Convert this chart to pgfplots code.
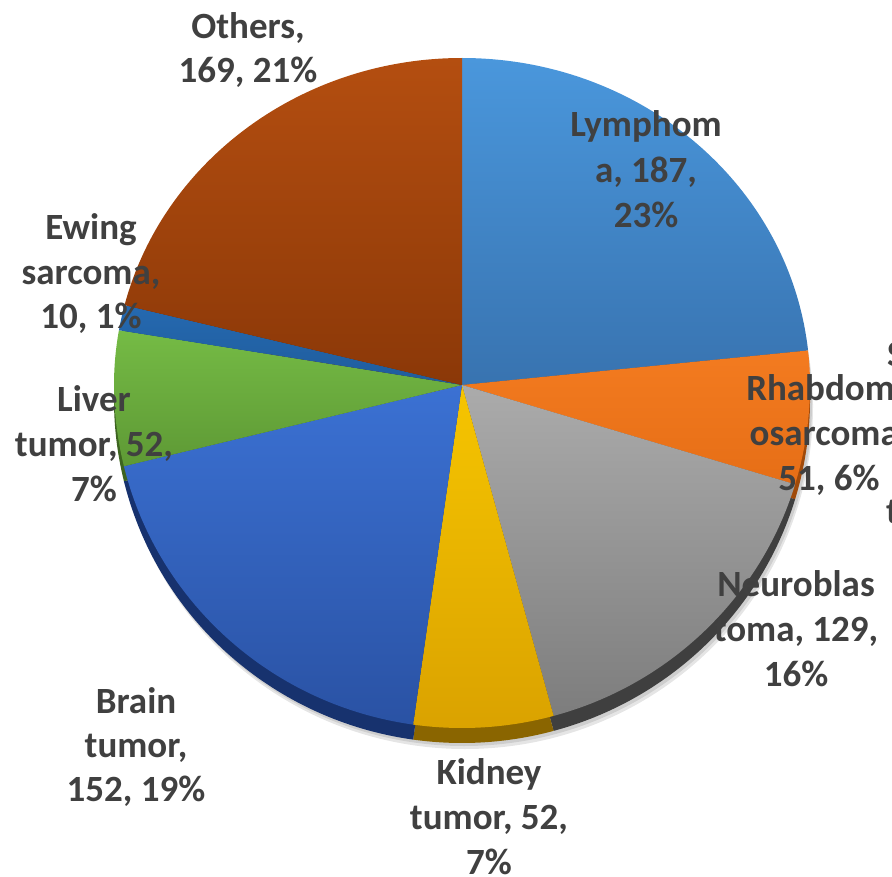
\documentclass[border=0pt]{standalone}
\usepackage{fontspec}
\setmainfont{Carlito}
\usepackage{pgfplots}
\usepackage{pgfplotstable}
\pgfplotsset{compat=1.18}

\definecolor{lbl}{HTML}{404040}
% top / bottom / side colours of each slice
\definecolor{c0top}{HTML}{4A97DC}\definecolor{c0bot}{HTML}{3873B0}\definecolor{c0side}{HTML}{24507E}
\definecolor{c1top}{HTML}{F37B20}\definecolor{c1bot}{HTML}{E66E16}\definecolor{c1side}{HTML}{A04A0A}
\definecolor{c2top}{HTML}{ABABAB}\definecolor{c2bot}{HTML}{7D7D7D}\definecolor{c2side}{HTML}{3F3F3F}
\definecolor{c3top}{HTML}{F6C500}\definecolor{c3bot}{HTML}{DAA200}\definecolor{c3side}{HTML}{8A6500}
\definecolor{c4top}{HTML}{3B71D3}\definecolor{c4bot}{HTML}{2A52A4}\definecolor{c4side}{HTML}{17326E}
\definecolor{c5top}{HTML}{75BB45}\definecolor{c5bot}{HTML}{5E9935}\definecolor{c5side}{HTML}{3D6420}
\definecolor{c6top}{HTML}{2569B0}\definecolor{c6bot}{HTML}{1F5C9C}\definecolor{c6side}{HTML}{143C66}
\definecolor{c7top}{HTML}{B44E10}\definecolor{c7bot}{HTML}{8B3808}\definecolor{c7side}{HTML}{5A2405}

\pgfplotstableread{
name value
Lymphoma 187
Rhabdomyosarcoma 51
Neuroblastoma 129
Kidney 52
Brain 152
Liver 52
Ewing 10
Others 169
}\piedata

% slice from angle #1 to #2 (degrees, clockwise from 12 o'clock), style #3
\newcommand\slice[3]{%
  \pgfmathsetmacro\aA{#1}%
  \pgfmathsetmacro\aB{max(#1,min(#2,90))}%
  \pgfmathsetmacro\bB{max(\aB,min(#2,270))}%
  \pgfmathsetmacro\ryS{cos(#1)>=0 ? 327 : 343}%
  \pgfmathsetmacro\xs{462+348*sin(#1)}%
  \pgfmathsetmacro\ys{385-\ryS*cos(#1)}%
  \pgfmathsetmacro\sA{90-\aA}\pgfmathsetmacro\eA{90-\aB}%
  \pgfmathsetmacro\eB{90-\bB}\pgfmathsetmacro\eC{90-#2}%
  \path[#3] (axis cs:462,385) -- (axis cs:\xs,\ys)
     arc[start angle=\sA, end angle=\eA, x radius=348bp, y radius=327bp]
     arc[start angle=\eA, end angle=\eB, x radius=348bp, y radius=343bp]
     arc[start angle=\eB, end angle=\eC, x radius=348bp, y radius=327bp]
     -- cycle;
}

\tikzset{lab/.style={anchor=base, inner sep=0pt, text=lbl,
  font=\fontsize{37bp}{44bp}\selectfont\bfseries}}

\begin{document}
\begin{tikzpicture}
\useasboundingbox (0,0) rectangle (892bp,877bp);
\clip (0,0) rectangle (892bp,877bp);
\begin{axis}[hide axis, scale only axis, width=892bp, height=877bp,
  xmin=0, xmax=892, ymin=0, ymax=877, y dir=reverse, clip=false]
\pgfplotsextra{%
  \gdef\tot{0}%
  \pgfplotstableforeachcolumnelement{value}\of\piedata\as\v{%
    \pgfmathsetmacro\tmp{\tot+\v}\global\let\tot\tmp}%
  % soft shadow
  \slice{0}{360}{fill=black, opacity=0.10, xshift=3bp, yshift=-21bp}%
  \slice{0}{360}{fill=black, opacity=0.10, xshift=2bp, yshift=-18bp}%
  % side (3D edge)
  \gdef\cum{0}%
  \pgfplotstableforeachcolumnelement{value}\of\piedata\as\v{%
    \pgfmathsetmacro\ta{(\cum/\tot)*360}%
    \pgfmathsetmacro\tmp{\cum+\v}\global\let\cum\tmp
    \pgfmathsetmacro\tb{(\cum/\tot)*360}%
    \tikzset{cur/.style/.expanded={fill=c\pgfplotstablerow side, yshift=-15bp}}%
    \slice{\ta}{\tb}{cur}%
  }%
  % top faces
  \gdef\cum{0}%
  \pgfplotstableforeachcolumnelement{value}\of\piedata\as\v{%
    \pgfmathsetmacro\ta{(\cum/\tot)*360}%
    \pgfmathsetmacro\tmp{\cum+\v}\global\let\cum\tmp
    \pgfmathsetmacro\tb{(\cum/\tot)*360}%
    \tikzset{cur/.style/.expanded={top color=c\pgfplotstablerow top, bottom color=c\pgfplotstablerow bot}}%
    \slice{\ta}{\tb}{cur}%
  }%
}
% labels
\node[lab] at (axis cs:248,39) {Others,};
\node[lab] at (axis cs:248,83) {169, 21\%};
\node[lab] at (axis cs:646,137) {Lymphom};
\node[lab] at (axis cs:646,182) {a, 187,};
\node[lab] at (axis cs:646,227) {23\%};
\node[lab] at (axis cs:91,239) {Ewing};
\node[lab] at (axis cs:91,284) {sarcoma,};
\node[lab] at (axis cs:91,328) {10, 1\%};
\node[lab] at (axis cs:94,411) {Liver};
\node[lab] at (axis cs:94,456) {tumor, 52,};
\node[lab] at (axis cs:94,501) {7\%};
\node[lab] at (axis cs:829,400) {Rhabdomy};
\node[lab] at (axis cs:829,445) {osarcoma,};
\node[lab] at (axis cs:829,490) {51, 6\%};
\node[lab] at (axis cs:796,596) {Neuroblas};
\node[lab] at (axis cs:796,641) {toma, 129,};
\node[lab] at (axis cs:796,686) {16\%};
\node[lab] at (axis cs:136,713) {Brain};
\node[lab] at (axis cs:136,757) {tumor,};
\node[lab] at (axis cs:136,801) {152, 19\%};
\node[lab] at (axis cs:489,784) {Kidney};
\node[lab] at (axis cs:489,829) {tumor, 52,};
\node[lab] at (axis cs:489,874) {7\%};
\node[lab, anchor=base west] at (axis cs:887,366) {S};
\node[lab, anchor=base west] at (axis cs:886,523) {t};
\end{axis}
\end{tikzpicture}
\end{document}
